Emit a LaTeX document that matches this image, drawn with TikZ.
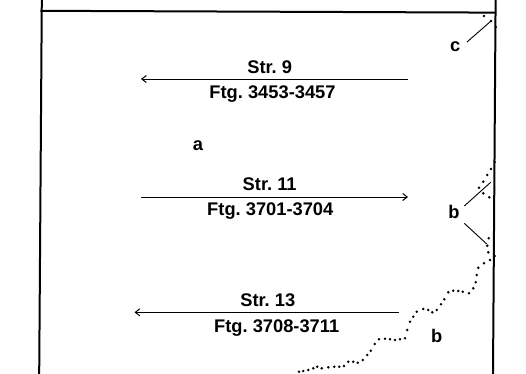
\documentclass[tikz,border=0pt]{standalone}
\usepackage{fontspec}
\setmainfont{Liberation Sans}
\usetikzlibrary{arrows.meta}
\frenchspacing
\tikzset{
  frame/.style={line width=2pt, line cap=rect},
  flow/.style={line width=1pt, -{Straight Barb[length=4.5pt,width=7pt,line width=1pt]}},
  leader/.style={line width=0.9pt},
  lbl/.style={inner sep=0pt, anchor=base, font=\fontsize{18.3}{22}\selectfont\bfseries},
  dotmark/.style={fill=black, draw=none}
}
\begin{document}
\begin{tikzpicture}[x=1pt,y=-1pt]
\useasboundingbox (0,0) rectangle (526,373);
% frame
\coordinate (lt) at (41.8,0);
\coordinate (lb) at (39.2,373);
\coordinate (rt) at (495.6,0);
\coordinate (rb) at (493,373);
\coordinate (tl) at (41.5,10.8);
\coordinate (tr) at (495,12.6);
\draw[frame] (lt) -- (lb);
\draw[frame] (rt) -- (rb);
\draw[frame] (tl) -- (tr);
% arrows
\coordinate (a1s) at (407.5,79);
\coordinate (a1e) at (141,79);
\coordinate (a2s) at (141,197);
\coordinate (a2e) at (408,197);
\coordinate (a3s) at (399,312.3);
\coordinate (a3e) at (134.5,312.3);
\draw[flow] (a1s) -- (a1e);
\draw[flow] (a2s) -- (a2e);
\draw[flow] (a3s) -- (a3e);
% labels
\node[lbl] (s9) at (269.7,73.3) {Str. 9};
\node[lbl] (f9) at (272.5,98) {Ftg. 3453-3457};
\node[lbl] (la) at (198,150.7) {a};
\node[lbl] (s11) at (269.7,190.5) {Str. 11};
\node[lbl] (f11) at (270.3,215.3) {Ftg. 3701-3704};
\node[lbl] (s13) at (267.8,306.7) {Str. 13};
\node[lbl] (f13) at (276.7,332.7) {Ftg. 3708-3711};
\node[lbl] (lb1) at (454,218.5) {b};
\node[lbl] (lb2) at (436.7,342.3) {b};
\node[lbl] (lc) at (455.3,51) {c};
% leader lines
\coordinate (c1) at (467,42);
\coordinate (c2) at (491,21);
\coordinate (b1a) at (464.3,206);
\coordinate (b1b) at (490.7,182.3);
\coordinate (b2a) at (464.3,223.3);
\coordinate (b2b) at (486.7,244);
\draw[leader] (c1) -- (c2);
\draw[leader] (b1a) -- (b1b);
\draw[leader] (b2a) -- (b2b);
% dots
\foreach \x/\y in {
  484/16, 491/21, 495.8/27,
  494.8/162, 491/169, 487.3/175, 483.3/181.7, 479/187.7, 483.3/193.3, 489.3/197.3,
  488.7/238.3, 487.3/245.7, 488.3/252.3, 494.8/256, 490/260, 484/263.3, 478.3/267.8,
  476.7/275, 475.7/282.3, 473.3/288.3, 469/293.3, 462.7/291.7, 458.3/291, 453.3/290.7, 448.3/292.3,
  444.3/299.3, 441/304.3, 436.7/310, 432.3/312.3, 428.3/310, 423.3/309, 416.7/311.7, 413.3/316.7,
  410/321.7, 407.3/330, 405/338.3, 400/339.3, 395/340, 390/339.3, 385/338.7, 379/339.3,
  374.8/344, 370.7/350.7, 367.3/355, 362.7/360, 357.7/362.7, 353.3/361.7, 348.3/361.7,
  344/366, 339.3/366.7, 334.3/366.7, 328.3/367.3, 321.7/368.3, 317.3/366.7, 313.3/368.3,
  308.3/370, 303.3/371, 299/371.7}
  \fill[dotmark] (\x,\y) circle (1.4pt);
\end{tikzpicture}
\end{document}
